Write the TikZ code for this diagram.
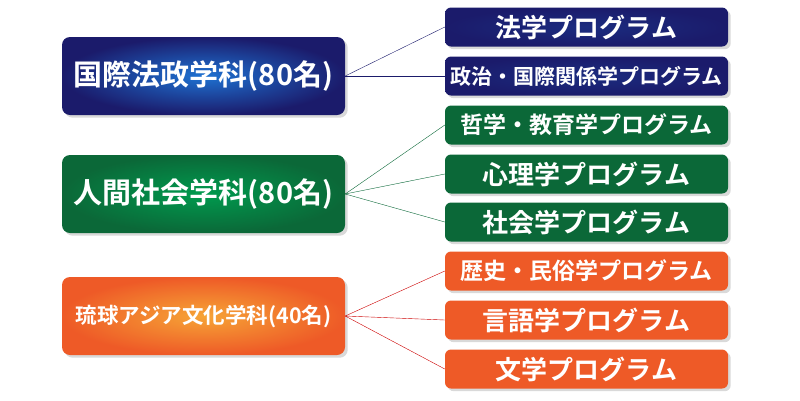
\documentclass[tikz,border=0pt]{standalone}
\usepackage{fontspec}
\setmainfont{Noto Sans CJK JP}[BoldFont={Noto Sans CJK JP Bold}]
\usetikzlibrary{shadows}
\definecolor{navyout}{HTML}{1B1B6B}
\definecolor{navyin}{HTML}{1E72D2}
\definecolor{greenout}{HTML}{0B6838}
\definecolor{greenin}{HTML}{009A4E}
\definecolor{orangeout}{HTML}{EE5A27}
\definecolor{orangein}{HTML}{F6A436}
\tikzset{
  dept/.style={rounded corners=8pt, minimum width=283pt, minimum height=78pt,
    inner sep=2pt, text=white, font=\bfseries, drop shadow={opacity=0.3}},
  prog/.style={rounded corners=6pt, minimum width=283pt, minimum height=39pt,
    inner sep=2pt, text=white, font=\bfseries, drop shadow={opacity=0.3}},
}
\begin{document}
\begin{tikzpicture}[x=1pt,y=-1pt]
		\useasboundingbox (0,0) rectangle (800,400);
		% departments
		\node[dept, inner color=navyin, outer color=navyout, font=\bfseries\fontsize{29}{31}\selectfont] (law) at (203.5,76) {国際法政学科(80名)};
		\node[dept, inner color=greenin, outer color=greenout, font=\bfseries\fontsize{29}{31}\selectfont] (soc) at (203.5,194) {人間社会学科(80名)};
		\node[dept, inner color=orangein, outer color=orangeout, font=\bfseries\fontsize{21.5}{23}\selectfont] (ryu) at (203.5,316) {琉球アジア文化学科(40名)};
		% programs
		\node[prog, inner color=navyout!80!navyin, outer color=navyout, font=\bfseries\fontsize{26}{28}\selectfont] (hou) at (586.5,27) {法学プログラム};
		\node[prog, inner color=navyout!80!navyin, outer color=navyout, font=\bfseries\fontsize{21}{23}\selectfont] (sei) at (586.5,76) {政治・国際関係学プログラム};
		\node[prog, fill=greenout, font=\bfseries\fontsize{23}{25}\selectfont] (tet) at (586.5,125) {哲学・教育学プログラム};
		\node[prog, fill=greenout, font=\bfseries\fontsize{26}{28}\selectfont] (shin) at (586.5,174) {心理学プログラム};
		\node[prog, fill=greenout, font=\bfseries\fontsize{26}{28}\selectfont] (sha) at (586.5,222) {社会学プログラム};
		\node[prog, fill=orangeout, font=\bfseries\fontsize{23}{25}\selectfont] (reki) at (586.5,271) {歴史・民俗学プログラム};
		\node[prog, fill=orangeout, font=\bfseries\fontsize{26}{28}\selectfont] (gen) at (586.5,320) {言語学プログラム};
		\node[prog, fill=orangeout, font=\bfseries\fontsize{26}{28}\selectfont] (bun) at (586.5,369) {文学プログラム};
		% connectors
		\draw [navyout] (law.east)--(hou.west);
		\draw [navyout] (law.east)--(sei.west);
		\draw [greenout] (soc.east)--(tet.west);
		\draw [greenout] (soc.east)--(shin.west);
		\draw [greenout] (soc.east)--(sha.west);
		\draw [red!80!black] (ryu.east)--(reki.west);
		\draw [red!80!black] (ryu.east)--(gen.west);
		\draw [red!80!black] (ryu.east)--(bun.west);
	\end{tikzpicture}
\end{document}
